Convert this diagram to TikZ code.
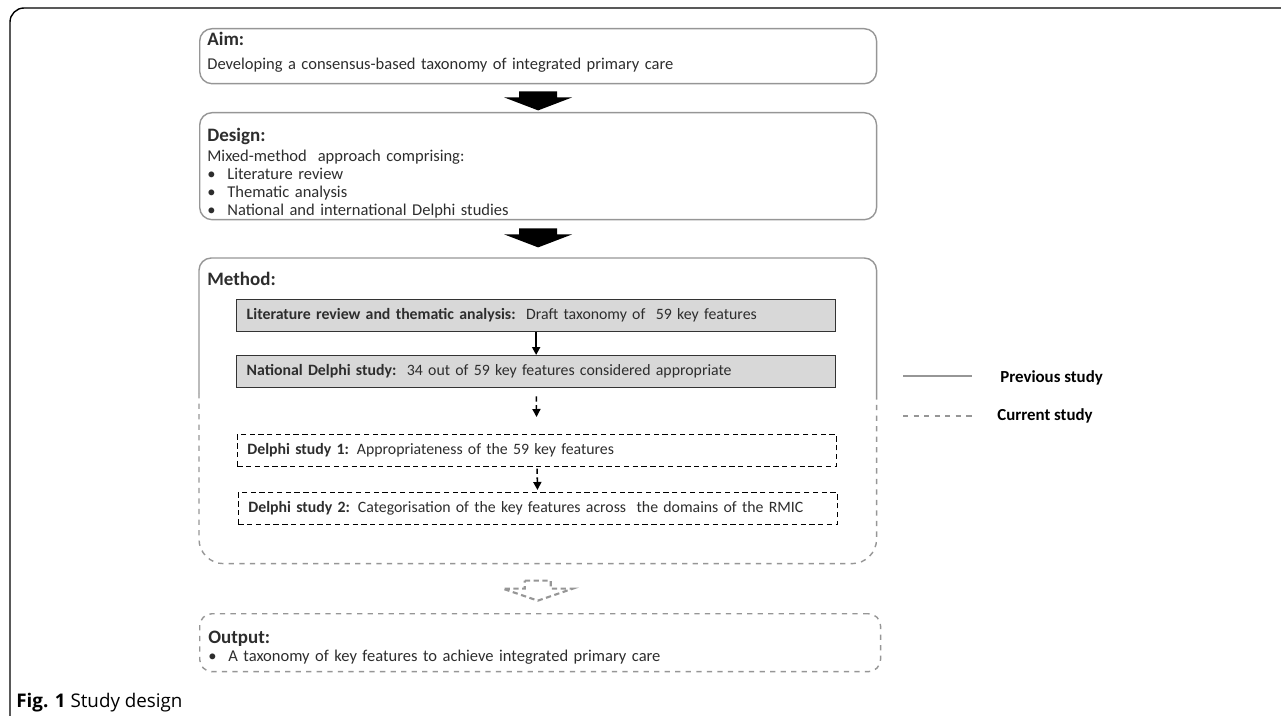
\documentclass[tikz,border=0pt]{standalone}
\usepackage{fontspec}
\setmainfont{Carlito}
\newfontfamily\capfont{Open Sans}
\usetikzlibrary{arrows.meta}
\usetikzlibrary{calc}
\definecolor{boxline}{RGB}{150,150,150}
\definecolor{boxfill}{RGB}{216,216,216}
\definecolor{txt}{RGB}{45,45,45}

\newcommand{\head}[1]{{\fontsize{10.8}{12}\selectfont\bfseries #1}}
\newcommand{\itm}{\makebox[0.4cm][l]{\textbullet}}

\tikzset{
	bigbox/.style={draw=boxline, line width=0.8pt, rounded corners=7pt, anchor=north west,
		minimum width=13.54cm, inner sep=0pt},
	boxtext/.style={anchor=base west, inner sep=0pt, text width=13cm, align=left},
	stepbox/.style={draw=black!80, fill=boxfill, line width=0.8pt, anchor=north west,
		minimum width=11.98cm, minimum height=0.64cm, text width=11.58cm, inner xsep=0.2cm, align=left,
		font=\fontsize{9}{10}\selectfont},
	delphibox/.style={stepbox, draw=black, fill=none, densely dashed, line width=0.4pt},
	blockarrow/.style={fill=black},
}

\begin{document}
\begin{tikzpicture}[x=0.02cm, y=-0.02cm, txt, font=\fontsize{9.4}{10.2}\selectfont]

	\useasboundingbox (0,0) rectangle (1281,716);

	% frame of the figure
	\draw[black, line width=0.8pt, rounded corners=8pt] (40,730) -- (10,730) -- (10,8) -- (1300,8);

	\node[bigbox, minimum height=1.1cm] (aim) at (199,28) {};
	\node[boxtext] (aimtext) at ($(aim.north west)+(8,18)$)
		{\head{Aim:}\\[3.3pt]Developing a consensus-based taxonomy of integrated primary care};

	\node[bigbox, minimum height=2.14cm] (design) at (199,112) {};
	\node[boxtext] (designtext) at ($(design.north west)+(8,30)$)
		{\head{Design:}\\[0.8pt]Mixed-method\ \ approach comprising:\\
		\itm Literature review\\ \itm Thematic analysis\\ \itm National and international Delphi studies};

	% method box, solid above and dashed below
	\node[minimum width=13.54cm, minimum height=6.1cm, anchor=north west, inner sep=0pt] (method) at (199,258) {};
	\draw[boxline, line width=0.8pt, rounded corners=7pt] ($(method.north west)+(0,135)$) |- (method.north) -| ($(method.north east)+(0,140)$);
	\draw[boxline, line width=0.8pt, dashed, rounded corners=14pt] ($(method.north west)+(0,135)$) |- (method.south) -| ($(method.north east)+(0,140)$);
	\node[anchor=base west, inner sep=0pt] (methodhead) at (207,285) {\head{Method:}};

	\node[stepbox] (lit) at (236,299) {\textbf{Literature review and thematic analysis:}\ \ Draft taxonomy of\ \ 59 key features};
	\node[stepbox] (national) at (236,355) {\textbf{National Delphi study:}\ \ 34 out of 59 key features considered appropriate};
	\node[delphibox] (delphione) at (237,434) {\textbf{Delphi study 1:} Appropriateness of the 59 key features};
	\node[delphibox] (delphitwo) at (238,492) {\textbf{Delphi study 2:} Categorisation of the key features across\ \ the domains of the RMIC};

	\draw[black, line width=1.1pt, -{Triangle[length=0.16cm, width=0.16cm]}] (lit) -- (national);
	\draw[black, line width=0.9pt, densely dashed, -{Triangle[length=0.16cm, width=0.16cm]}, shorten <=0.16cm, shorten >=0.34cm] (national) -- (delphione);
	\draw[black, line width=0.9pt, densely dashed, -{Triangle[length=0.16cm, width=0.16cm]}, shorten <=0.04cm, shorten >=0.04cm] (delphione) -- (delphitwo);

	\node[bigbox, dashed, minimum width=13.62cm, minimum height=1.16cm] (output) at (199,613) {};
	\node[boxtext] (outputtext) at ($(output.north west)+(9,30)$)
		{\head{Output:}\\[0.4pt]\itm A taxonomy of key features to achieve integrated primary care};

	% block arrows between the main boxes
	\fill[blockarrow] ($(aim.south)+(-19,7)$) -- ++(38,0) -- ++(0,6) -- ++(15,0) -- ++(-34,13) -- ++(-34,-13) -- ++(15,0) -- cycle;
	\fill[blockarrow] ($(design.south)+(-19,8)$) -- ++(38,0) -- ++(0,6) -- ++(15,0) -- ++(-34,13) -- ++(-34,-13) -- ++(15,0) -- cycle;
	\draw[boxline, line width=1.2pt, dashed, dash pattern=on 3pt off 2pt] ($(method.south)+(-13,17)$) -- ++(26,0) -- ++(0,8) -- ++(22,0) -- ++(-35,12) -- ++(-35,-12) -- ++(22,0) -- cycle;

	% legend
	\node[anchor=west, black, inner sep=0pt, font=\fontsize{9.6}{10}\selectfont\bfseries] (prev) at (1000,378) {Previous study};
	\node[anchor=west, black, inner sep=0pt, font=\fontsize{9.6}{10}\selectfont\bfseries] (curr) at (997,416) {Current study};
	\draw[boxline, line width=0.8pt] ($(prev.west)+(-97,-2)$) -- ++(69,0);
	\draw[boxline, line width=0.8pt, dashed] ($(curr.west)+(-94,0)$) -- ++(69,0);

	\node[anchor=base west, black, inner sep=0pt, font=\capfont\fontsize{10.7}{12}\selectfont] (caption) at (16,707) {\textbf{Fig. 1} Study design};

\end{tikzpicture}
\end{document}
